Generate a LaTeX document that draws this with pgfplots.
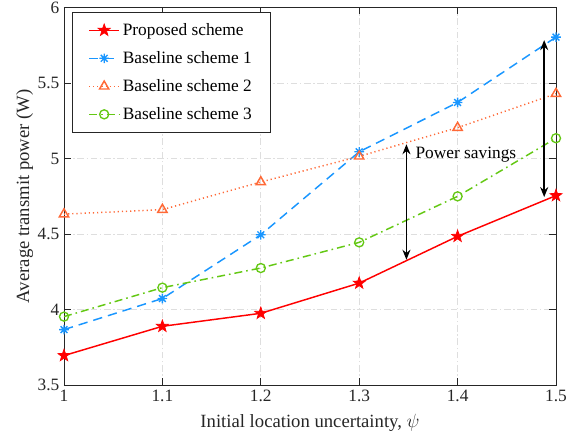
\documentclass[border=0pt]{standalone}
\usepackage{fontspec}
\setmainfont{Liberation Serif}
\usepackage{pgfplots}
\pgfplotsset{compat=1.18}
\usetikzlibrary{arrows.meta}
\definecolor{cred}{RGB}{255,0,0}
\definecolor{cblue}{RGB}{25,150,255}
\definecolor{corange}{RGB}{255,105,55}
\definecolor{cgreen}{RGB}{100,200,20}
\definecolor{axgray}{RGB}{38,38,38}
\definecolor{gridgray}{RGB}{222,222,222}
\pgfdeclareplotmark{pentagram}{%
  \pgfpathmoveto{\pgfpointpolar{90}{\pgfplotmarksize}}%
  \pgfpathlineto{\pgfpointpolar{126}{0.4\pgfplotmarksize}}%
  \pgfpathlineto{\pgfpointpolar{162}{\pgfplotmarksize}}%
  \pgfpathlineto{\pgfpointpolar{198}{0.4\pgfplotmarksize}}%
  \pgfpathlineto{\pgfpointpolar{234}{\pgfplotmarksize}}%
  \pgfpathlineto{\pgfpointpolar{270}{0.4\pgfplotmarksize}}%
  \pgfpathlineto{\pgfpointpolar{306}{\pgfplotmarksize}}%
  \pgfpathlineto{\pgfpointpolar{342}{0.4\pgfplotmarksize}}%
  \pgfpathlineto{\pgfpointpolar{18}{\pgfplotmarksize}}%
  \pgfpathlineto{\pgfpointpolar{54}{0.4\pgfplotmarksize}}%
  \pgfpathclose
  \pgfusepathqfillstroke}
\pgfdeclareplotmark{ast8}{%
  \pgfpathmoveto{\pgfqpoint{-\pgfplotmarksize}{0pt}}\pgfpathlineto{\pgfqpoint{\pgfplotmarksize}{0pt}}%
  \pgfpathmoveto{\pgfqpoint{0pt}{-\pgfplotmarksize}}\pgfpathlineto{\pgfqpoint{0pt}{\pgfplotmarksize}}%
  \pgfpathmoveto{\pgfpointpolar{45}{\pgfplotmarksize}}\pgfpathlineto{\pgfpointpolar{225}{\pgfplotmarksize}}%
  \pgfpathmoveto{\pgfpointpolar{135}{\pgfplotmarksize}}\pgfpathlineto{\pgfpointpolar{315}{\pgfplotmarksize}}%
  \pgfusepathqstroke}
\begin{document}
\begin{tikzpicture}
\begin{axis}[
  name=ax,
  scale only axis,
  width=369pt, height=283pt,
  xmin=1, xmax=1.5, ymin=3.5, ymax=6,
  xtick={1,1.1,1.2,1.3,1.4,1.5},
  ytick={3.5,4,4.5,5,5.5,6},
  /pgf/number format/assume math mode=true,
  /pgf/number format/fixed,
  tick label style={font=\fontsize{13}{15}\selectfont, text=axgray},
  label style={font=\fontsize{14}{17}\selectfont, text=axgray},
  xlabel={Initial location uncertainty, $\psi$},
  ylabel={Average transmit power (W)},
  xlabel style={at={(axis description cs:0.5,-0.1)}, anchor=center},
  ylabel style={at={(axis description cs:-0.08,0.5)}, anchor=center},
  axis line style={axgray, line width=0.6pt},
  tick style={axgray, line width=0.6pt},
  tick align=inside,
  major tick length=5pt,
  xmajorgrids, ymajorgrids,
  grid style={gridgray, line width=0.6pt, dash pattern=on 5pt off 2pt on 1pt off 2pt},
  legend style={at={(axis description cs:0.016,0.988)}, anchor=north west,
    draw=axgray, line width=0.6pt, fill=white,
    font=\fontsize{13}{15}\selectfont, row sep=6.5pt,
    inner xsep=12pt, inner ysep=6pt},
  legend cell align=left,
  legend image code/.code={%
    \draw[mark repeat=2,mark phase=2,#1] plot coordinates {(0cm,0cm) (0.4cm,0cm) (0.8cm,0cm)};},
]
\addplot[cred, line width=1.1pt, mark=pentagram, mark size=4.8pt, mark options={solid, fill=cred, line width=0.5pt}]
  coordinates {(1,3.695) (1.1,3.889) (1.2,3.975) (1.3,4.175) (1.4,4.485) (1.5,4.755)};
\addlegendentry{Proposed scheme}
\addplot[cblue, line width=1.1pt, dash pattern=on 7pt off 4.5pt, mark=ast8, mark size=3.6pt, mark options={solid, line width=1pt}]
  coordinates {(1,3.867) (1.1,4.073) (1.2,4.495) (1.3,5.045) (1.4,5.372) (1.5,5.805)};
\addlegendentry{Baseline scheme 1}
\addplot[corange, line width=1.1pt, dash pattern=on 0.9pt off 2.2pt, mark=triangle, mark size=4pt, mark options={solid, line width=1.1pt}]
  coordinates {(1,4.632) (1.1,4.662) (1.2,4.845) (1.3,5.015) (1.4,5.205) (1.5,5.43)};
\addlegendentry{Baseline scheme 2}
\addplot[cgreen, line width=1.1pt, dash pattern=on 6pt off 3pt on 1.2pt off 3pt, mark=o, mark size=3.4pt, mark options={solid, line width=1pt}]
  coordinates {(1,3.953) (1.1,4.145) (1.2,4.275) (1.3,4.445) (1.4,4.75) (1.5,5.135)};
\addlegendentry{Baseline scheme 3}
\draw[black, line width=1.1pt, {Stealth[length=7.5pt,width=6pt]}-{Stealth[length=7.5pt,width=6pt]}] (axis cs:1.348,4.33) -- (axis cs:1.348,5.095);
\draw[black, line width=1.1pt, {Stealth[length=7.5pt,width=6pt]}-{Stealth[length=7.5pt,width=6pt]}] (axis cs:1.488,4.745) -- (axis cs:1.488,5.785);
\node[anchor=west, font=\fontsize{13}{15}\selectfont, inner sep=0pt] at (axis cs:1.357,5.025) {Power savings};
\end{axis}
\pgfresetboundingbox
\path (ax.south west) ++(-48pt,-43.5pt) rectangle ++(438.75pt,332.25pt);
\end{tikzpicture}
\end{document}
